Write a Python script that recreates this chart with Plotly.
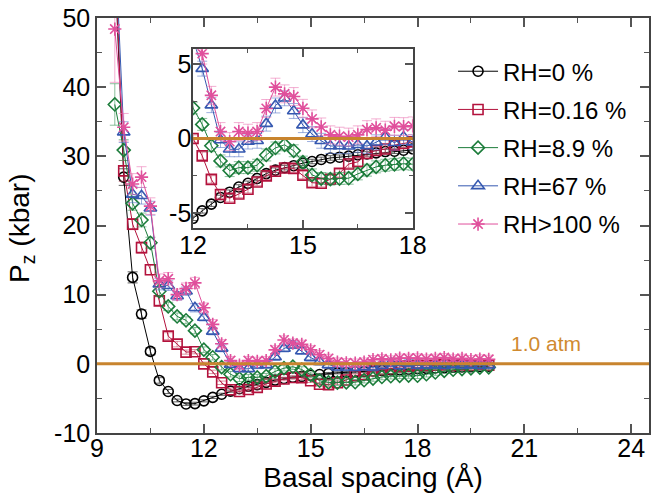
import plotly.graph_objects as go

# ---------------- data ----------------
spacing = [9.5, 9.75, 10.0, 10.25, 10.5, 10.75, 11.0, 11.25, 11.5, 11.75,
           12.0, 12.25, 12.5, 12.75, 13.0, 13.25, 13.5, 13.75, 14.0, 14.25,
           14.5, 14.75, 15.0, 15.25, 15.5, 15.75, 16.0, 16.25, 16.5, 16.75,
           17.0, 17.25, 17.5, 17.75, 18.0, 18.25, 18.5, 18.75, 19.0, 19.25,
           19.5, 19.75, 20.0]

pz_rh0 = [58, 27.0, 12.5, 7.2, 1.8, -2.4, -4.0, -5.3, -5.8, -5.75,
          -5.35, -4.85, -4.4, -3.95, -3.6, -3.25, -3.0, -2.68, -2.35, -2.12,
          -1.95, -1.82, -1.65, -1.54, -1.4, -1.3, -1.25, -1.18, -1.09, -1.03,
          -0.96, -0.87, -0.85, -0.78, -0.69, -0.65, -0.6, -0.55, -0.5, -0.45,
          -0.42, -0.38, -0.35]
err_rh0 = [2.0, 1.2, 0.8, 0.6, 0.5, 0.4, 0.3, 0.2, 0.2, 0.2,
           0.15, 0.15, 0.15, 0.15, 0.15, 0.15, 0.15, 0.15, 0.15, 0.15,
           0.15, 0.15, 0.15, 0.15, 0.15, 0.15, 0.15, 0.15, 0.15, 0.15,
           0.15, 0.15, 0.15, 0.15, 0.15, 0.15, 0.15, 0.15, 0.15, 0.15,
           0.15, 0.15, 0.15]

pz_rh016 = [60, 27.9, 20.2, 16.8, 13.6, 9.1, 4.0, 2.85, 1.7, 1.75,
            0.0, -1.16, -2.74, -3.75, -4.0, -3.72, -3.4, -2.91, -2.5, -2.19,
            -1.97, -2.0, -2.45, -2.96, -3.0, -2.73, -2.33, -1.71, -1.56, -1.0,
            -0.8, -0.7, -0.44, -0.33, -0.22, -0.3, -0.2, -0.15, -0.25, -0.15,
            -0.2, -0.1, -0.2]
err_rh016 = [3.0, 1.5, 0.8, 0.8, 0.7, 0.6, 0.5, 0.4, 0.3, 0.3,
             0.25, 0.25, 0.25, 0.25, 0.25, 0.25, 0.25, 0.25, 0.25, 0.25,
             0.25, 0.25, 0.25, 0.25, 0.25, 0.25, 0.25, 0.25, 0.25, 0.25,
             0.25, 0.25, 0.25, 0.25, 0.25, 0.25, 0.25, 0.25, 0.25, 0.25,
             0.25, 0.25, 0.25]

pz_rh89 = [37.5, 30.9, 23.2, 20.8, 17.5, 10.5, 8.3, 6.85, 6.3, 4.8,
           2.05, 0.95, -0.48, -1.5, -2.15, -1.95, -1.95, -1.79, -1.1, -0.63,
           -0.42, -0.82, -1.58, -2.44, -2.68, -2.72, -2.68, -2.66, -2.37, -2.12,
           -1.9, -1.79, -1.73, -1.69, -1.72, -1.5, -1.25, -1.0, -0.85, -0.75,
           -0.65, -0.55, -0.5]
err_rh89 = [3.0, 1.5, 1.0, 1.0, 0.8, 0.7, 0.6, 0.5, 0.5, 0.45,
            0.4, 0.4, 0.4, 0.4, 0.4, 0.4, 0.4, 0.4, 0.4, 0.4,
            0.4, 0.4, 0.4, 0.4, 0.4, 0.4, 0.4, 0.4, 0.4, 0.4,
            0.4, 0.4, 0.4, 0.4, 0.4, 0.4, 0.4, 0.4, 0.4, 0.4,
            0.4, 0.4, 0.4]

pz_rh67 = [62, 33.5, 24.5, 24.3, 22.5, 11.5, 11.3, 9.8, 10.5, 8.1,
           6.7, 4.69, 2.24, -0.1, -0.72, -0.72, -0.2, -0.15, 1.0, 2.22,
           2.7, 1.85, 0.9, 0.3, -0.15, -0.5, -0.5, -0.52, -0.42, -0.5,
           -0.25, 0.1, -0.28, 0.1, -0.24, -0.2, -0.15, -0.25, -0.1, -0.2,
           -0.15, -0.25, -0.2]
err_rh67 = [4.0, 1.5, 1.2, 1.2, 1.0, 0.8, 0.7, 0.6, 0.6, 0.6,
            0.5, 0.5, 0.5, 0.5, 0.5, 0.5, 0.5, 0.5, 0.5, 0.5,
            0.5, 0.5, 0.5, 0.5, 0.5, 0.5, 0.5, 0.5, 0.5, 0.5,
            0.5, 0.5, 0.5, 0.5, 0.5, 0.5, 0.5, 0.5, 0.5, 0.5,
            0.5, 0.5, 0.5]

pz_rh100 = [48.4, 34.2, 26.0, 27.0, 22.8, 12.0, 12.3, 10.0, 10.9, 11.7,
            8.1, 5.7, 2.9, 0.47, -0.2, 0.47, 0.36, 0.47, 2.02, 3.45,
            3.0, 2.82, 2.03, 1.32, 0.78, 0.25, 0.16, 0.1, 0.25, 0.6,
            0.72, 0.56, 0.82, 0.8, 0.85, 0.7, 0.8, 0.9, 0.7, 0.8,
            0.6, 0.7, 0.65]
err_rh100 = [7.7, 2.0, 1.5, 1.5, 1.2, 1.0, 0.9, 0.8, 0.8, 0.8,
             0.7, 0.7, 0.6, 0.6, 0.6, 0.6, 0.6, 0.6, 0.6, 0.6,
             0.6, 0.6, 0.6, 0.6, 0.6, 0.6, 0.6, 0.6, 0.6, 0.6,
             0.6, 0.6, 0.6, 0.6, 0.6, 0.6, 0.6, 0.6, 0.6, 0.6,
             0.6, 0.6, 0.6]

series_names = ["RH=0 %", "RH=0.16 %", "RH=8.9 %", "RH=67 %", "RH>100 %"]
series_values = [pz_rh0, pz_rh016, pz_rh89, pz_rh67, pz_rh100]
series_errors = [err_rh0, err_rh016, err_rh89, err_rh67, err_rh100]

main_xticks = [9, 12, 15, 18, 21, 24]
main_xtick_text = ["9", "12", "15", "18", "21", "24"]
main_yticks = [-10, 0, 10, 20, 30, 40, 50]
main_ytick_text = ["-10", "0", "10", "20", "30", "40", "50"]
inset_xticks = [12, 15, 18]
inset_xtick_text = ["12", "15", "18"]
inset_yticks = [-5, 0, 5]
inset_ytick_text = ["-5", "0", "5"]

# ---------------- styles ----------------
colors = ["#000000", "#b3123c", "#1b7c3a", "#3558b0", "#e0509c"]
err_colors = ["rgba(60,60,60,0.8)", "rgba(200,70,100,0.6)", "rgba(60,150,90,0.6)",
              "rgba(90,120,200,0.6)", "rgba(235,120,180,0.6)"]
symbols = ["circle-open", "square-open", "diamond-open", "triangle-up-open", "asterisk-open"]
sizes = [10, 10, 10, 11, 11]
FONT = "Liberation Sans, Arial, Helvetica, sans-serif"
ORANGE = "#c8842e"

fig = go.Figure()

for i in range(5):
    for sub in (0, 1):
        fig.add_trace(go.Scatter(
            x=spacing, y=series_values[i],
            mode="lines+markers",
            name=series_names[i],
            legendgroup=series_names[i],
            showlegend=(sub == 0),
            line=dict(color=colors[i], width=1),
            marker=dict(symbol=symbols[i], size=sizes[i], color=colors[i],
                        line=dict(color=colors[i], width=1.6)),
            error_y=dict(type="data", array=series_errors[i], visible=True,
                         color=err_colors[i], thickness=1, width=5),
            xaxis="x" if sub == 0 else "x2",
            yaxis="y" if sub == 0 else "y2",
        ))

axis_common = dict(
    showgrid=False, zeroline=False, showline=True, linecolor="#444",
    linewidth=1.5, mirror="allticks", ticks="inside", tickcolor="#555",
    tickwidth=1.5, tickfont=dict(size=25, family=FONT, color="black"),
    automargin=False,
)

fig.update_layout(
    width=651, height=498,
    margin=dict(l=97, r=2, t=18, b=65, autoexpand=False),
    paper_bgcolor="white", plot_bgcolor="white",
    font=dict(family=FONT, color="black"),
    xaxis=dict(axis_common, range=[9, 24.5], tickmode="array",
               tickvals=main_xticks, ticktext=main_xtick_text, ticklen=9,
               ticklabelstandoff=-8,
               minor=dict(ticks="inside", tick0=9, dtick=1.5, ticklen=5,
                          tickcolor="#555", tickwidth=1.2),
               title=dict(text="Basal spacing (Å)", font=dict(size=28, family=FONT),
                          standoff=4)),
    yaxis=dict(axis_common, range=[-10, 50], tickmode="array",
               tickvals=main_yticks, ticktext=main_ytick_text, ticklen=9,
               ticklabelstandoff=0,
               minor=dict(ticks="inside", tick0=0, dtick=5, ticklen=5,
                          tickcolor="#555", tickwidth=1.2)),
    xaxis2=dict(axis_common, domain=[0.174, 0.572], anchor="y2", range=[12, 18],
                tickmode="array", tickvals=inset_xticks, ticktext=inset_xtick_text,
                ticklen=8, ticklabelstandoff=-6,
                minor=dict(ticks="inside", tick0=12, dtick=1.5, ticklen=4,
                           tickcolor="#555", tickwidth=1.2)),
    yaxis2=dict(axis_common, domain=[0.494, 0.925], anchor="x2", range=[-6, 6],
                tickmode="array", tickvals=inset_yticks, ticktext=inset_ytick_text,
                ticklen=8, ticklabelstandoff=-5,
                minor=dict(ticks="inside", tick0=0, dtick=2.5, ticklen=4,
                           tickcolor="#555", tickwidth=1.2)),
    legend=dict(x=0.645, y=0.925, xanchor="left", yanchor="top",
                font=dict(size=24, family=FONT), bgcolor="rgba(0,0,0,0)",
                itemwidth=40, tracegroupgap=4, traceorder="grouped"),
    shapes=[
        dict(type="line", xref="x domain", yref="y", x0=0, x1=1, y0=0, y1=0,
             line=dict(color=ORANGE, width=3), layer="above"),
        dict(type="line", xref="x2 domain", yref="y2", x0=0, x1=1, y0=0, y1=0,
             line=dict(color=ORANGE, width=3), layer="above"),
    ],
    annotations=[
        dict(text="1.0 atm", x=21.6, y=1.0, xref="x", yref="y", yanchor="bottom",
             showarrow=False, font=dict(size=21, family=FONT, color="#d08a30")),
        dict(text="P<sub>z</sub> (kbar)", xref="paper", yref="paper",
             x=-0.136, y=0.494, xanchor="center", yanchor="middle",
             textangle=-90, showarrow=False,
             font=dict(size=28, family=FONT, color="black")),
    ],
)

fig.write_html("out.html")
